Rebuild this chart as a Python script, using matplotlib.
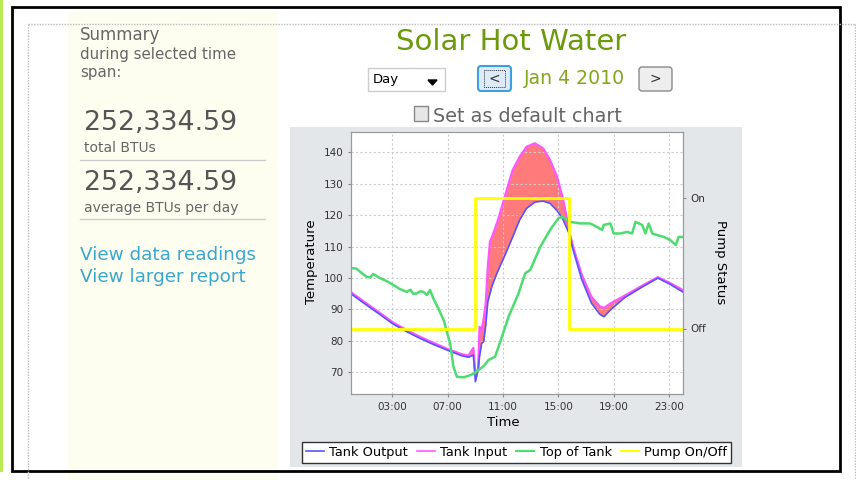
import matplotlib
matplotlib.use('Agg')
import matplotlib.pyplot as plt
from matplotlib.patches import Rectangle, FancyBboxPatch, Polygon
from matplotlib.lines import Line2D

# tank temperatures, shared time axis (hours of the day)
hours = [0, 1, 2, 3, 4, 5, 6, 7, 8, 8.5, 8.85, 9.0, 9.2, 9.3, 9.45, 9.6, 9.75,
         9.9, 10.05, 10.2, 10.6, 11.2, 11.7, 12.2, 12.7, 13.3, 13.9, 14.4, 14.9,
         15.3, 15.55, 15.75, 16.1, 16.7, 17.4, 18.0, 18.3, 18.8, 19.8, 21.0,
         22.2, 23.1, 24]
tank_input = [95.5, 92.3, 89.2, 86.0, 83.5, 81.3, 79.3, 77.4, 75.8, 75.3, 77.8,
              69.7, 71.0, 84.5, 83.5, 87.0, 92.0, 103.6, 111.5, 113.1, 118.0,
              127.0, 134.4, 138.6, 141.8, 142.9, 141.3, 137.6, 132.3, 125.9,
              120.6, 115.5, 109.5, 101.0, 94.0, 91.0, 90.5, 92.0, 94.4, 97.4,
              100.3, 98.4, 96.2]
tank_output = [95.0, 91.8, 88.7, 85.5, 83.0, 80.8, 78.8, 77.0, 75.3, 74.8, 75.5,
               67.0, 70.7, 75.0, 79.2, 79.8, 85.0, 92.5, 95.0, 97.5, 102.0,
               107.9, 113.1, 118.5, 122.2, 124.2, 124.5, 123.8, 121.5, 119.0,
               116.5, 114.5, 108.5, 99.5, 92.0, 88.5, 87.7, 90.0, 93.8, 97.0,
               100.0, 98.0, 95.6]

top_hours = [0, 0.4, 0.8, 1.14, 1.4, 1.6, 2.1, 2.6, 3.07, 3.5, 4.04, 4.3, 4.5,
             4.76, 5.0, 5.24, 5.49, 5.72, 5.96, 6.3, 6.7, 7.17, 7.41, 7.66,
             8.14, 8.5, 8.86, 9.22, 9.6, 9.95, 10.43, 10.92, 11.4, 12.12, 12.6,
             12.97, 13.7, 14.4, 15.0, 15.27, 15.87, 16.6, 17.3, 17.8, 18.17,
             18.28, 18.77, 19.0, 19.5, 19.98, 20.34, 20.58, 21.07, 21.3, 21.54,
             21.8, 22.15, 22.63, 23.1, 23.5, 23.7, 24]
top_of_tank = [103.2, 103.0, 101.5, 100.4, 100.2, 101.3, 100.0, 99.0, 97.8,
               96.6, 95.6, 96.3, 95.0, 95.1, 95.8, 95.6, 94.6, 96.2, 93.5, 90.5,
               86.7, 79.2, 71.8, 68.6, 68.4, 68.9, 69.5, 70.7, 72.0, 73.9, 75.0,
               81.3, 87.7, 95.1, 101.5, 102.6, 110.0, 115.3, 119.0, 119.5,
               117.9, 117.4, 117.4, 116.3, 115.3, 116.9, 117.4, 114.2, 114.2,
               114.7, 114.2, 117.9, 116.9, 114.2, 117.4, 114.2, 113.7, 113.1,
               112.1, 110.5, 113.1, 113.1]

pump_hours = [0, 9.0, 15.75, 24]
pump_state = [0, 1, 0, 0]

xtick_hours = [3, 7, 11, 15, 19, 23]
xtick_labels = ['03:00', '07:00', '11:00', '15:00', '19:00', '23:00']
ytick_temps = [70, 80, 90, 100, 110, 120, 130, 140]

plt.rcParams['font.family'] = ['DejaVu Sans']

fig = plt.figure(figsize=(8.56, 4.8), dpi=100)
fig.patch.set_facecolor('white')

# page decorations, drawn in pixel coordinates
bg = fig.add_axes([0, 0, 1, 1])
bg.set_xlim(0, 856)
bg.set_ylim(480, 0)
bg.axis('off')

bg.add_patch(Rectangle((0, 0), 3, 472, color='#b6ec4f', lw=0))
bg.plot([28, 855], [24, 24], color='#bbbbbb', lw=1, ls=(0, (1, 1)))
bg.plot([28, 28], [24, 480], color='#bbbbbb', lw=1, ls=(0, (1, 1)))
bg.plot([855, 855], [24, 480], color='#bbbbbb', lw=1, ls=(0, (1, 1)))
bg.add_patch(Rectangle((68, 12), 209, 468, color='#fefef0', lw=0))
bg.add_patch(Rectangle((12, 7), 828, 464, fill=False, edgecolor='black', lw=2))

grey = '#666666'
bg.text(80, 35, 'Summary', fontsize=12, color=grey, va='center')
bg.text(80, 55, 'during selected time', fontsize=10.8, color=grey, va='center')
bg.text(80, 72, 'span:', fontsize=10.8, color=grey, va='center')
bg.text(84, 123, '252,334.59', fontsize=19.3, color='#555555', va='center')
bg.text(84, 148, 'total BTUs', fontsize=10, color=grey, va='center')
bg.plot([80, 265], [160, 160], color='#cccccc', lw=1)
bg.text(84, 183, '252,334.59', fontsize=19.3, color='#555555', va='center')
bg.text(84, 208, 'average BTUs per day', fontsize=10, color=grey, va='center')
bg.plot([80, 265], [219, 219], color='#cccccc', lw=1)
bg.text(80, 255, 'View data readings', fontsize=13.2, color='#3aa6cf', va='center')
bg.text(80, 277, 'View larger report', fontsize=13.2, color='#3aa6cf', va='center')

bg.text(511, 42, 'Solar Hot Water', fontsize=21, color='#6b9a0c', ha='center', va='center')

# date selector row
bg.add_patch(Rectangle((368, 68), 77, 23, facecolor='white', edgecolor='#cccccc', lw=1))
bg.text(373, 79.5, 'Day', fontsize=9.5, color='black', va='center')
bg.add_patch(Polygon([[428, 80], [437, 80], [432.5, 85]], color='black'))
bg.add_patch(FancyBboxPatch((478, 66), 33, 25, boxstyle='round,pad=0,rounding_size=3',
                            facecolor='#dcebf7', edgecolor='#3d9fe0', lw=1.5))
bg.add_patch(Rectangle((484, 70), 21, 17, fill=False, edgecolor='#333333', lw=0.7, ls=(0, (1, 1))))
bg.text(494.5, 78.5, '<', fontsize=10, color='#333333', ha='center', va='center')
bg.text(575, 78.5, 'Jan 4 2010', fontsize=13.6, color='#84a61d', ha='center', va='center')
bg.add_patch(FancyBboxPatch((639, 67), 33, 24, boxstyle='round,pad=0,rounding_size=3',
                            facecolor='#eeeeee', edgecolor='#8a8a8a', lw=1))
bg.text(655.5, 79, '>', fontsize=10, color='#333333', ha='center', va='center')

bg.add_patch(Rectangle((414, 106), 14, 15, facecolor='#e6e6e6', edgecolor='#888888', lw=1))
bg.text(433, 116, 'Set as default chart', fontsize=13.8, color=grey, va='center')

# chart panel background and axis titles
bg.add_patch(Rectangle((290, 127), 452, 340, color='#e4e7ea', lw=0))
bg.text(312, 262, 'Temperature', fontsize=9.5, rotation=90, ha='center', va='center')
bg.text(503, 423, 'Time', fontsize=9.5, ha='center', va='center')
bg.text(721, 262, 'Pump Status', fontsize=9.5, rotation=270, ha='center', va='center')

ax = fig.add_axes([351 / 856, 1 - 394 / 480, (682.7 - 351) / 856, (394 - 132) / 480])
ax.set_facecolor('white')
ax.set_xlim(0, 24)
ax.set_ylim(63.1, 146.5)
ax.set_xticks(xtick_hours)
ax.set_xticklabels(xtick_labels)
ax.set_yticks(ytick_temps)
ax.grid(True, color='#cccccc', ls=(0, (2, 2)), lw=0.8)
ax.tick_params(labelsize=7.5, length=2.5, pad=3, color='#888888', labelcolor='#333333')
for s in ax.spines.values():
    s.set_color('#999999')

ax.fill_between(hours, tank_output, tank_input, color='#ff7a7a', lw=0)
ax.plot(hours, tank_input, color='#ff55ff', lw=1.6)
ax.plot(hours, tank_output, color='#5555ff', lw=1.2)
ax.plot(top_hours, top_of_tank, color='#4cdc70', lw=1.8)

ax2 = ax.twinx()
ax2.set_ylim(-0.5, 1.5)
ax2.set_yticks([0, 1])
ax2.set_yticklabels(['Off', 'On'])
ax2.tick_params(labelsize=7.5, length=2.5, pad=3, color='#888888', labelcolor='#333333')
for s in ax2.spines.values():
    s.set_color('#999999')
ax2.plot(pump_hours, pump_state, color='#ffff00', lw=2, drawstyle='steps-post')

handles = [Line2D([], [], color='#5555ff', lw=1.2),
           Line2D([], [], color='#ff55ff', lw=1.2),
           Line2D([], [], color='#4cdc70', lw=1.5),
           Line2D([], [], color='#ffff00', lw=1.5)]
leg = fig.legend(handles, ['Tank Output', 'Tank Input', 'Top of Tank', 'Pump On/Off'],
                 loc='center', bbox_to_anchor=(516.5 / 856, 1 - 452.5 / 480), ncol=4,
                 fontsize=9.3, handlelength=1.4, handletextpad=0.4, columnspacing=0.7,
                 fancybox=False, framealpha=1, edgecolor='#333333', borderpad=0.3,
                 borderaxespad=0)
leg.get_frame().set_linewidth(1)

fig.savefig('out.png', dpi=100)
